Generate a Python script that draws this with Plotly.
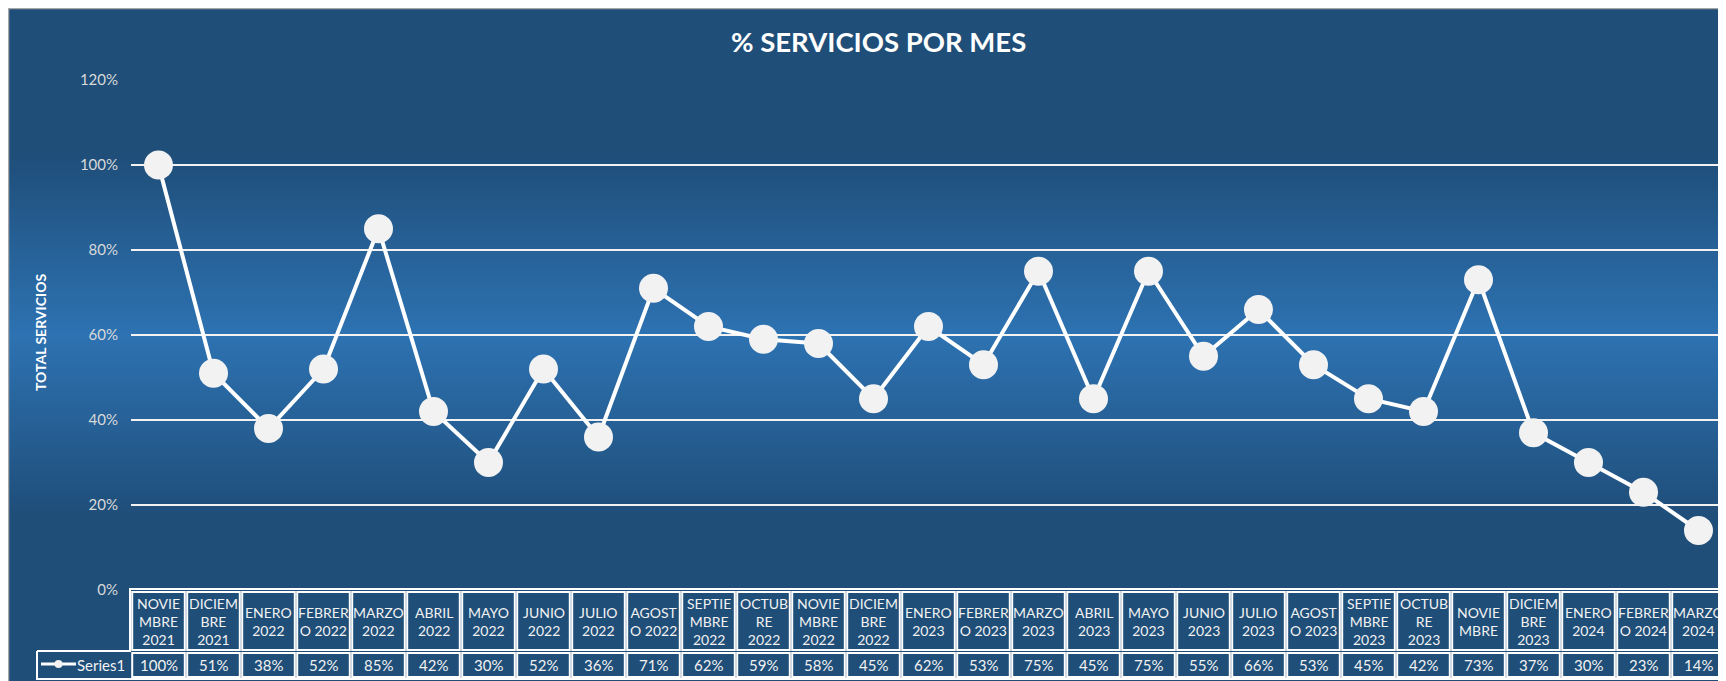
import plotly.graph_objects as go

# ---------------- data ----------------
categories = ["NOVIEMBRE 2021", "DICIEMBRE 2021", "ENERO 2022", "FEBRERO 2022", "MARZO 2022",
              "ABRIL 2022", "MAYO 2022", "JUNIO 2022", "JULIO 2022", "AGOSTO 2022",
              "SEPTIEMBRE 2022", "OCTUBRE 2022", "NOVIEMBRE 2022", "DICIEMBRE 2022", "ENERO 2023",
              "FEBRERO 2023", "MARZO 2023", "ABRIL 2023", "MAYO 2023", "JUNIO 2023",
              "JULIO 2023", "AGOSTO 2023", "SEPTIEMBRE 2023", "OCTUBRE 2023", "NOVIEMBRE",
              "DICIEMBRE 2023", "ENERO 2024", "FEBRERO 2024", "MARZO 2024"]
cat_labels = ["NOVIE<br>MBRE<br>2021", "DICIEM<br>BRE<br>2021", "ENERO<br>2022", "FEBRER<br>O 2022",
              "MARZO<br>2022", "ABRIL<br>2022", "MAYO<br>2022", "JUNIO<br>2022", "JULIO<br>2022",
              "AGOST<br>O 2022", "SEPTIE<br>MBRE<br>2022", "OCTUB<br>RE<br>2022", "NOVIE<br>MBRE<br>2022",
              "DICIEM<br>BRE<br>2022", "ENERO<br>2023", "FEBRER<br>O 2023", "MARZO<br>2023",
              "ABRIL<br>2023", "MAYO<br>2023", "JUNIO<br>2023", "JULIO<br>2023", "AGOST<br>O 2023",
              "SEPTIE<br>MBRE<br>2023", "OCTUB<br>RE<br>2023", "NOVIE<br>MBRE", "DICIEM<br>BRE<br>2023",
              "ENERO<br>2024", "FEBRER<br>O 2024", "MARZO<br>2024"]
series1 = [1.00, 0.51, 0.38, 0.52, 0.85, 0.42, 0.30, 0.52, 0.36, 0.71,
           0.62, 0.59, 0.58, 0.45, 0.62, 0.53, 0.75, 0.45, 0.75, 0.55,
           0.66, 0.53, 0.45, 0.42, 0.73, 0.37, 0.30, 0.23, 0.14]
series_name = "Series1"
y_ticks = [0, 0.2, 0.4, 0.6, 0.8, 1.0, 1.2]

# ---------------- geometry helpers (page pixels -> paper) ----------------
W, H = 1718, 673          # figure size (page has an 8px body margin)
OFF = 8
PL, PR, PT, PB = 131, 1726, 80, 590   # plot area in page pixels
def px(x):
    return (x - PL) / (PR - PL)
def py(y):
    return (PB - y) / (PB - PT)

DARK = (31, 78, 121)
LIGHT = (45, 114, 178)
FONT = "Lato"
TXT = "#F2F2F2"

fig = go.Figure()
fig.add_trace(go.Scatter(
    x=categories, y=series1, mode="lines+markers", name=series_name,
    line=dict(color="#FFFFFF", width=4),
    marker=dict(size=29, color="#F2F2F2", line=dict(width=0)),
    showlegend=False, hoverinfo="x+y"))

shapes = []
# background gradient of chart area
y0, y1, peak, half = 150, 535, 335, 180
step = 3
yy = y0
while yy < y1:
    c = yy + step / 2
    t = max(0.0, 1 - abs(c - peak) / half)
    col = tuple(round(DARK[k] + (LIGHT[k] - DARK[k]) * t) for k in range(3))
    shapes.append(dict(type="rect", xref="paper", yref="paper", layer="below",
                       x0=px(OFF), x1=px(1740), y0=py(yy + step + 0.5), y1=py(yy),
                       fillcolor="rgb(%d,%d,%d)" % col, line=dict(width=0)))
    yy += step

# chart border (top / left)
shapes.append(dict(type="line", xref="paper", yref="paper", x0=px(OFF), x1=px(1740),
                   y0=py(OFF + 0.5), y1=py(OFF + 0.5), line=dict(color="#A6A6A6", width=1.5)))
shapes.append(dict(type="line", xref="paper", yref="paper", x0=px(OFF + 0.5), x1=px(OFF + 0.5),
                   y0=py(OFF), y1=py(700), line=dict(color="#A6A6A6", width=1.5)))

# data table frame
frame = "M %f,%f L %f,%f L %f,%f L %f,%f" % (px(1740), py(589), px(130), py(589),
                                              px(130), py(651), px(37), py(651))
shapes.append(dict(type="path", xref="paper", yref="paper", path=frame,
                   line=dict(color="#FFFFFF", width=2)))
shapes.append(dict(type="path", xref="paper", yref="paper",
                   path="M %f,%f L %f,%f L %f,%f" % (px(37), py(651), px(37), py(679), px(1740), py(679)),
                   line=dict(color="#FFFFFF", width=2)))

ins = 1.2 / 55.0
for i, cat in enumerate(categories):
    shapes.append(dict(type="rect", xref="x", yref="paper", x0=i - 0.5 + ins, x1=i + 0.5 - ins,
                       y0=py(650), y1=py(592), line=dict(color="#FFFFFF", width=2)))
    shapes.append(dict(type="rect", xref="x", yref="paper", x0=i - 0.5 + ins, x1=i + 0.5 - ins,
                       y0=py(677), y1=py(653), line=dict(color="#FFFFFF", width=2)))

# legend key inside the data table
shapes.append(dict(type="line", xref="paper", yref="paper", x0=px(41), x1=px(76),
                   y0=py(664), y1=py(664), line=dict(color="#FFFFFF", width=3)))
shapes.append(dict(type="circle", xref="paper", yref="paper", x0=px(54.5), x1=px(62.5),
                   y0=py(668), y1=py(660), fillcolor="#F2F2F2", line=dict(width=0)))

annotations = []
for i, (cat, lab, v) in enumerate(zip(categories, cat_labels, series1)):
    annotations.append(dict(x=cat, xref="x", y=py(621), yref="paper", text=lab, showarrow=False,
                            xanchor="center", yanchor="middle", align="center",
                            font=dict(family=FONT, size=14, color=TXT)))
    annotations.append(dict(x=cat, xref="x", y=py(665), yref="paper", text="%d%%" % round(v * 100),
                            showarrow=False, xanchor="center", yanchor="middle",
                            font=dict(family=FONT, size=15, color=TXT)))
annotations.append(dict(x=px(127), xref="paper", y=py(665), yref="paper", text=series_name,
                        showarrow=False, xanchor="right", yanchor="middle",
                        font=dict(family=FONT, size=15, color=TXT)))
# title
annotations.append(dict(x=px(878), xref="paper", y=py(41), yref="paper", text="<b>% SERVICIOS POR MES</b>",
                        showarrow=False, xanchor="center", yanchor="middle",
                        font=dict(family=FONT, size=27.5, color="#FFFFFF")))
# y axis title
annotations.append(dict(x=px(40), xref="paper", y=py(333), yref="paper", text="<b>TOTAL SERVICIOS</b>",
                        showarrow=False, xanchor="center", yanchor="middle", textangle=-90,
                        font=dict(family=FONT, size=14, color="#FFFFFF")))

fig.update_layout(
    width=W, height=H,
    margin=dict(l=PL - OFF, r=0, t=PT - OFF, b=H - (PB - OFF), pad=0),
    paper_bgcolor="rgb(31,78,121)", plot_bgcolor="rgba(0,0,0,0)",
    showlegend=False,
    shapes=shapes, annotations=annotations,
    xaxis=dict(type="category", categoryorder="array", categoryarray=categories,
               range=[-0.5, len(categories) - 0.5], showticklabels=False, showgrid=False,
               zeroline=False, showline=False, ticks=""),
    yaxis=dict(range=[0, 1.2], tickvals=y_ticks, tickformat=".0%", showgrid=True,
               gridcolor="#F2F2F2", gridwidth=2, zeroline=False, showline=False, ticks="",
               ticklabelstandoff=12,
               tickfont=dict(family=FONT, size=15, color="#D9D9D9")),
    font=dict(family=FONT),
)

fig.write_html("out.html")
